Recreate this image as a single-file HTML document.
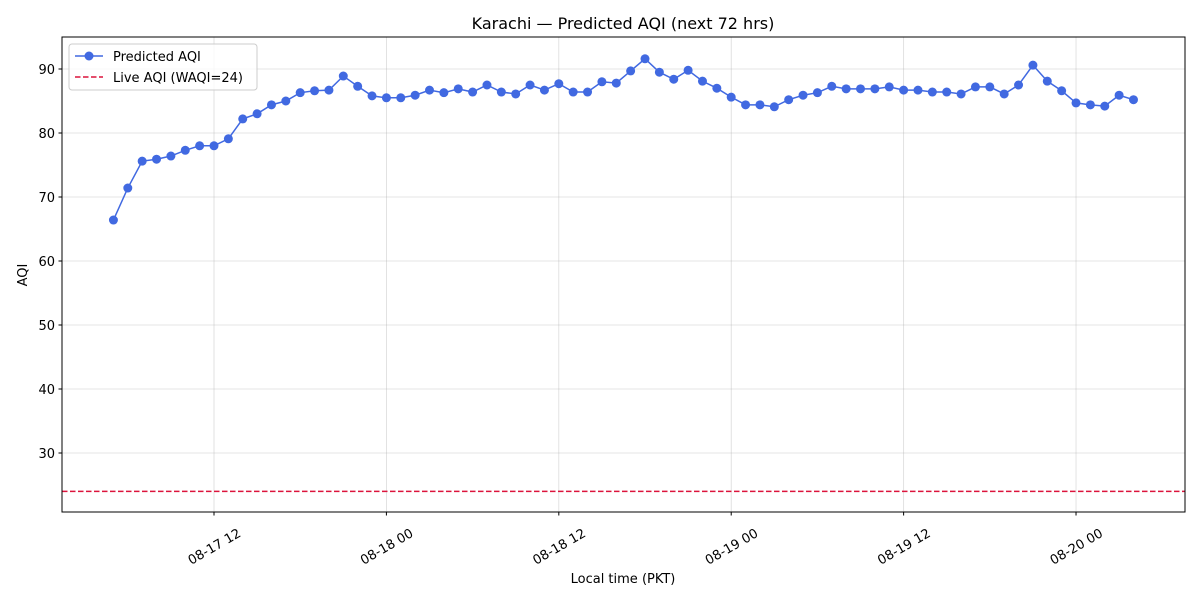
<!DOCTYPE html>
<html><head><meta charset="utf-8"><style>body{margin:0;background:#fff}svg{display:block;font-family:"DejaVu Sans","Liberation Sans",sans-serif}</style></head>
<body>
<svg id="chart" width="1200" height="600" xmlns="http://www.w3.org/2000/svg">
<rect width="1200" height="600" fill="#fff"/>
<text x="623" y="29" font-size="16" text-anchor="middle">Karachi — Predicted AQI (next 72 hrs)</text>
<g id="grid"></g>
<g id="axes"></g>
<g id="series"></g>
<rect x="62" y="37" width="1123" height="475" fill="none" stroke="#000" stroke-width="1"/>
<text x="623" y="583" font-size="13" text-anchor="middle">Local time (PKT)</text>
<text transform="translate(27,275) rotate(-90)" font-size="13" text-anchor="middle">AQI</text>
<g>
<rect x="69" y="44" width="188" height="46" fill="#fff" fill-opacity="0.8" stroke="#ccc" rx="3"/>
<line x1="75" y1="56" x2="103" y2="56" stroke="#4169e1" stroke-width="1.5"/>
<circle cx="89" cy="56" r="4.5" fill="#4169e1"/>
<text x="113" y="61" font-size="13">Predicted AQI</text>
<line x1="75" y1="77" x2="103" y2="77" stroke="#dc143c" stroke-width="1.5" stroke-dasharray="5.5,2.5"/>
<text x="113" y="82" font-size="13">Live AQI (WAQI=24)</text>
</g>
</svg>
<script>
const hours = Array.from({length:72},(_,i)=>i); // hours since 08-17 05:00
const predicted = [66.4,71.4,75.6,75.9,76.4,77.3,78.0,78.0,79.1,82.2,83.0,84.4,85.0,86.3,86.6,86.7,88.9,87.3,85.8,85.5,85.5,85.9,86.7,86.3,86.9,86.4,87.5,86.4,86.1,87.5,86.7,87.7,86.4,86.4,88.0,87.8,89.7,91.6,89.5,88.4,89.8,88.1,87.0,85.6,84.4,84.4,84.1,85.2,85.9,86.3,87.3,86.9,86.9,86.9,87.2,86.7,86.7,86.4,86.4,86.1,87.2,87.2,86.1,87.5,90.6,88.1,86.6,84.7,84.4,84.2,85.9,85.2];
const liveAQI = 24;
const yTicks = [30,40,50,60,70,80,90];
const xTickHours = [7,19,31,43,55,67];
const xTickLabels = ["08-17 12","08-18 00","08-18 12","08-19 00","08-19 12","08-20 00"];
const NS="http://www.w3.org/2000/svg";
const X=h=>214+(h-7)*14.367;
const Y=v=>69+(90-v)*6.4;
function mk(t,a,p){const e=document.createElementNS(NS,t);for(const k in a)e.setAttribute(k,a[k]);p.appendChild(e);return e;}
const grid=document.getElementById('grid'),axes=document.getElementById('axes'),ser=document.getElementById('series');
yTicks.forEach(v=>{
 const g=mk('line',{x1:62,x2:1185,y1:Y(v),y2:Y(v),stroke:'#b0b0b0','stroke-opacity':0.45,'stroke-width':0.8},grid);
 
 
 const t=mk('line',{x1:58.5,x2:62,y1:Y(v),y2:Y(v),stroke:'#000'},axes);
 
 
 const l=mk('text',{x:55,y:Y(v)+5,'font-size':13,'text-anchor':'end'},axes);
 l.textContent=v;
 
 
});
xTickHours.forEach((h,i)=>{
 const g=mk('line',{x1:X(h),x2:X(h),y1:37,y2:512,stroke:'#b0b0b0','stroke-opacity':0.45,'stroke-width':0.8},grid);
 
 
 const t=mk('line',{x1:X(h),x2:X(h),y1:512,y2:515.5,stroke:'#000'},axes);
 
 
 const l=mk('text',{x:0,y:0,'font-size':13,'text-anchor':'middle',transform:`translate(${X(h)},${546}) rotate(-30)`},axes);
 l.setAttribute('dy','5');
 l.textContent=xTickLabels[i];
 
 
});
const live=mk('line',{x1:62,x2:1185,y1:Y(liveAQI),y2:Y(liveAQI),stroke:'#dc143c','stroke-width':1.5,'stroke-dasharray':'5.5,2.5'},ser);


const pl=mk('polyline',{points:hours.map((h,i)=>X(h)+','+Y(predicted[i])).join(' '),fill:'none',stroke:'#4169e1','stroke-width':1.5},ser);


hours.forEach((h,i)=>{
 const c=mk('circle',{cx:X(h),cy:Y(predicted[i]),r:4.5,fill:'#4169e1'},ser);
 
 
});
</script>
</body></html>
